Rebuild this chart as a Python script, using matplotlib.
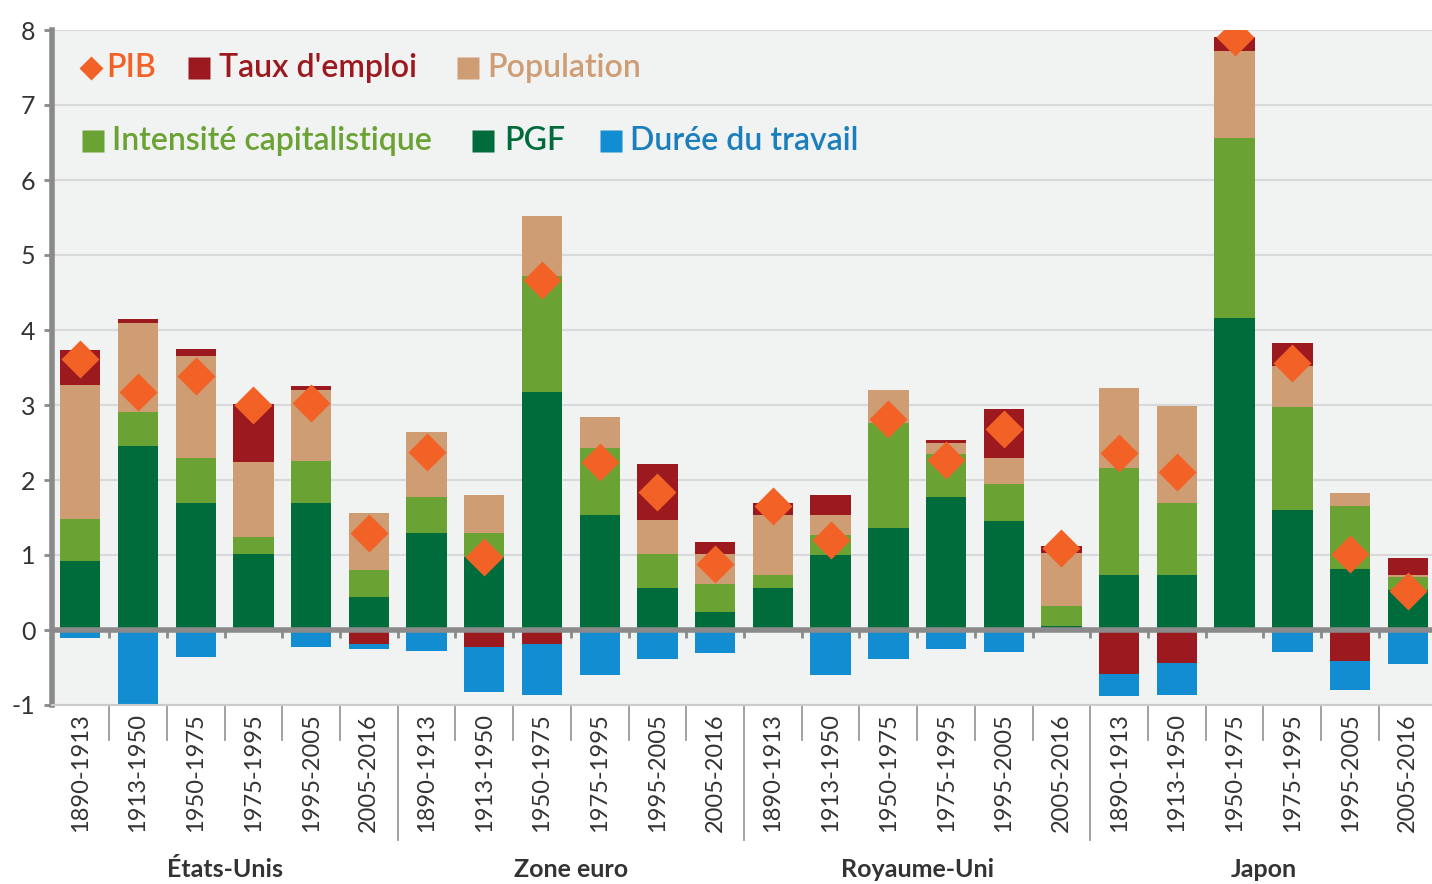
import numpy as np
import matplotlib.pyplot as plt

plt.rcParams['font.family'] = ['Lato', 'DejaVu Sans']
plt.rcParams['axes.unicode_minus'] = False

# Contributions to GDP growth, in points of %
regions = ["États-Unis", "Zone euro", "Royaume-Uni", "Japon"]
periods = ["1890-1913", "1913-1950", "1950-1975", "1975-1995", "1995-2005", "2005-2016"]

pgf = [0.92, 2.45, 1.69, 1.01, 1.69, 0.44,
       1.30, 0.98, 3.17, 1.54, 0.56, 0.24,
       0.56, 1.00, 1.36, 1.77, 1.45, 0.05,
       0.73, 0.73, 4.16, 1.60, 0.82, 0.53]
intensite = [0.56, 0.46, 0.60, 0.23, 0.56, 0.36,
             0.47, 0.32, 1.55, 0.89, 0.45, 0.38,
             0.17, 0.27, 1.40, 0.58, 0.50, 0.27,
             1.43, 0.96, 2.40, 1.37, 0.83, 0.18]
population = [1.79, 1.18, 1.36, 1.00, 0.95, 0.76,
              0.87, 0.50, 0.80, 0.41, 0.46, 0.39,
              0.80, 0.26, 0.44, 0.14, 0.35, 0.71,
              1.07, 1.30, 1.16, 0.55, 0.18, 0.02]
taux_emploi = [0.46, 0.06, 0.10, 0.77, 0.05, -0.18,
               0.00, -0.23, -0.18, 0.00, 0.74, 0.17,
               0.16, 0.27, 0.00, 0.04, 0.65, 0.09,
               -0.59, -0.44, 0.19, 0.31, -0.41, 0.23]
duree = [-0.11, -0.98, -0.36, 0.00, -0.22, -0.07,
         -0.28, -0.60, -0.69, -0.60, -0.38, -0.30,
         0.00, -0.60, -0.38, -0.25, -0.29, 0.00,
         -0.29, -0.42, 0.00, -0.29, -0.39, -0.45]
pib = [3.62, 3.17, 3.39, 3.00, 3.03, 1.30,
       2.37, 0.98, 4.67, 2.24, 1.84, 0.88,
       1.65, 1.20, 2.81, 2.27, 2.68, 1.10,
       2.36, 2.11, 7.91, 3.56, 1.02, 0.52]

c_pgf = '#006b3b'
c_int = '#6aa233'
c_pop = '#cf9d74'
c_taux = '#9c1a1f'
c_duree = '#138dd2'
c_pib = '#f26226'
grey = '#8a8a8a'

labels = periods * len(regions)
x = np.arange(len(labels))
pgf = np.array(pgf)
intensite = np.array(intensite)
population = np.array(population)
taux_emploi = np.array(taux_emploi)
duree = np.array(duree)

W, H = 1432, 884
fig = plt.figure(figsize=(W / 100, H / 100), dpi=100)
ax = fig.add_axes([52 / W, 1 - 705 / H, 1 - 52 / W, 675 / H])
ax.set_facecolor('#f1f2f2')
ax.set_xlim(-0.49, 23.42)
ax.set_ylim(-1, 8)
ax.set_yticks(range(-1, 9))
ax.grid(axis='y', color='#d8d9da', lw=1.5)
ax.set_axisbelow(True)

w = 0.7
top2 = pgf + intensite
top3 = top2 + population
taux_pos = np.clip(taux_emploi, 0, None)
taux_neg = np.clip(taux_emploi, None, 0)
ax.bar(x, pgf, w, color=c_pgf)
ax.bar(x, intensite, w, bottom=pgf, color=c_int)
ax.bar(x, population, w, bottom=top2, color=c_pop)
ax.bar(x, taux_pos, w, bottom=top3, color=c_taux)
ax.bar(x, taux_neg, w, color=c_taux)
ax.bar(x, duree, w, bottom=taux_neg, color=c_duree)
ax.plot(x, pib, 'D', color=c_pib, ms=19, mec='none', zorder=4)

# zero line with small ticks between bars
ax.axhline(0, color=grey, lw=4, zorder=3)
bounds = np.arange(0.5, len(labels) - 1, 1)
ax.vlines(bounds, -0.1, 0, color=grey, lw=2, zorder=3)

for s in ['top', 'right']:
    ax.spines[s].set_visible(False)
ax.spines['left'].set_color(grey)
ax.spines['left'].set_linewidth(4)
ax.spines['bottom'].set_color('#c9caca')
ax.spines['bottom'].set_linewidth(1.5)

ax.tick_params(axis='y', length=6, width=2, color=grey, labelsize=18,
               labelcolor='#333333', pad=6)
ax.set_xticks(x, labels, rotation=90)
ax.tick_params(axis='x', length=0, labelsize=17, labelcolor='#333333', pad=6)

# separators below the axis
tr = ax.get_xaxis_transform()
for b in bounds:
    big = (b + 0.5) % len(periods) == 0
    ax.plot([b, b], [0, -0.2 if big else -0.052], transform=tr, clip_on=False,
            color='#9a9a9a', lw=1.3)

n = len(periods)
for i, r in enumerate(regions):
    ax.text(i * n + (n - 1) / 2, -0.243, r, transform=tr, ha='center', va='center',
            fontsize=18, fontweight='bold', color='#333333')

# legend drawn by hand, in figure pixels
def fx(px):
    return px / W

def fy(py):
    return 1 - py / H

items = [
    ('D', c_pib, 'PIB', 91, 68, 106, c_pib),
    ('s', c_taux, "Taux d'emploi", 199, 68, 219, c_taux),
    ('s', c_pop, 'Population', 468, 68, 487, c_pop),
    ('s', c_int, 'Intensité capitalistique', 93, 141, 112, c_int),
    ('s', c_pgf, 'PGF', 483, 141, 504, c_pgf),
    ('s', c_duree, 'Durée du travail', 611, 141, 630, '#1b7fbd'),
]
for m, col, txt, mx, my, tx, tcol in items:
    ax.plot([fx(mx)], [fy(my)], m, color=col, ms=12 if m == 'D' else 16, mec='none',
            transform=fig.transFigure, clip_on=False)
    fig.text(fx(tx), fy(my), txt, color=tcol, fontsize=23, fontweight='semibold',
             va='center', ha='left')

fig.savefig('out.png', dpi=100)
